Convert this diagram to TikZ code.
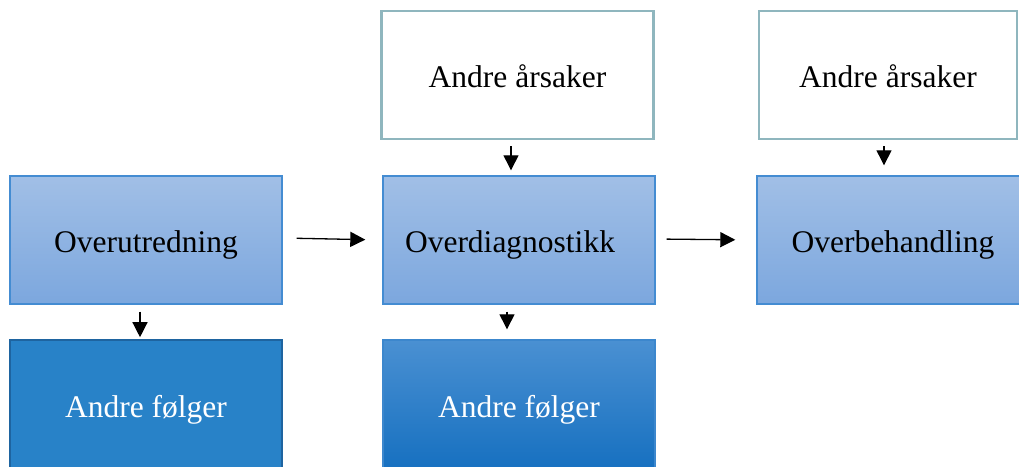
\documentclass[tikz,border=0pt]{standalone}
\usepackage{fontspec}
\setmainfont{Liberation Serif}
\usetikzlibrary{arrows.meta}
\definecolor{lighttop}{RGB}{161,191,230}
\definecolor{lightbot}{RGB}{124,167,222}
\definecolor{lightborder}{RGB}{68,140,210}
\definecolor{causeborder}{RGB}{143,182,190}
\definecolor{darkfill}{RGB}{40,130,200}
\definecolor{darkborder}{RGB}{30,100,160}
\definecolor{gradtop}{RGB}{74,144,210}
\definecolor{gradbot}{RGB}{22,112,192}
\definecolor{gradborder}{RGB}{60,135,205}
\begin{document}
\begin{tikzpicture}[x=1pt,y=1pt,
  box/.style={rectangle, minimum width=272pt, minimum height=128pt, inner sep=0pt,
    text height=30pt, text depth=6pt,
    font=\fontsize{31.5}{36}\selectfont},
  cause/.style={box, draw=causeborder, line width=2.5pt, fill=white},
  mid/.style={box, draw=lightborder, line width=1.4pt, top color=lighttop, bottom color=lightbot},
  effflat/.style={box, minimum height=130pt, draw=darkborder, line width=1.6pt, fill=darkfill, text=white},
  effgrad/.style={box, minimum height=130pt, draw=gradborder, line width=1.4pt, top color=gradtop, bottom color=gradbot, text=white},
  arr/.style={-{Triangle[length=15pt,width=15pt]}, line width=1.3pt, black}
]
\useasboundingbox (0,0) rectangle (1019,-466);
\clip (0,0) rectangle (1019,-466);

\node[cause] (A1) at (517.5,-75) {Andre årsaker};
\node[cause, minimum width=258pt] (A2) at (888,-75) {Andre årsaker};

\node[mid] (O1) at (146,-240) {Overutredning};
\node[mid] (O2) at (519,-240) {\hspace*{-18pt}Overdiagnostikk};
\node[mid] (O3) at (893,-240) {Overbehandling};

\node[effflat] (F1) at (146,-405) {Andre følger};
\node[effgrad] (F2) at (519,-405) {Andre følger};

\draw[arr, shorten <=14pt, shorten >=17pt] ([yshift=2pt]O1.east) -- (O2.west);
\draw[arr, shorten <=11pt, shorten >=21pt] ([yshift=1pt]O2.east) -- (O3.west);

\draw[arr, shorten <=6pt, shorten >=5pt] ([xshift=-6.5pt]A1.south) -- ([xshift=-6.5pt]A1.south |- O2.north);
\draw[arr, shorten <=6pt, shorten >=10pt] ([xshift=-4pt]A2.south) -- ([xshift=-4pt]A2.south |- O3.north);
\draw[arr, shorten <=7pt, shorten >=2pt] ([xshift=-6pt]O1.south) -- ([xshift=-6pt]O1.south |- F1.north);
\draw[arr, shorten <=7pt, shorten >=10pt] ([xshift=-12pt]O2.south) -- ([xshift=-12pt]O2.south |- F2.north);
\end{tikzpicture}
\end{document}
